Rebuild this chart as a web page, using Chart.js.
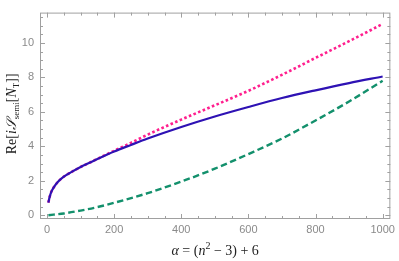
<!DOCTYPE html>
<html><head><meta charset="utf-8">
<script src="https://cdn.jsdelivr.net/npm/chart.js@4"></script>
<style>html,body{margin:0;padding:0;background:#fff}#wrap{width:399px;height:261px}</style>
</head><body><div id="wrap"><canvas id="c"></canvas></div>
<script>
const alphaBlue = [4, 8, 13, 20, 32, 50, 72, 100, 125, 150, 200, 250, 300, 400, 500, 600, 700, 800, 900, 1000];
const blueVals  = [0.73, 1.08, 1.37, 1.62, 1.93, 2.24, 2.5, 2.8, 3.03, 3.26, 3.7, 4.08, 4.45, 5.12, 5.73, 6.28, 6.8, 7.25, 7.67, 8.05];
const alphaPink = [4, 8, 13, 20, 32, 50, 72, 100, 125, 150, 200, 250, 300, 400, 500, 600, 700, 800, 900, 1000];
const pinkVals  = [0.73, 1.08, 1.37, 1.62, 1.93, 2.24, 2.5, 2.8, 3.03, 3.27, 3.74, 4.2, 4.68, 5.55, 6.38, 7.22, 8.15, 9.13, 10.1, 11.1];
const alphaGreen = [4, 50, 100, 150, 200, 300, 400, 500, 600, 700, 800, 900, 1000];
const greenVals  = [0, 0.1, 0.27, 0.47, 0.72, 1.28, 1.95, 2.7, 3.55, 4.45, 5.5, 6.6, 7.8];
const xTicks = [0, 200, 400, 600, 800, 1000];
const yTicks = [0, 2, 4, 6, 8, 10];

const pts = (xs, ys) => xs.map((x, i) => ({x, y: ys[i]}));
const GRAY = '#8a8a8a';

const framePlugin = {
  id: 'frame',
  afterDraw(chart) {
    const ctx = chart.ctx, a = chart.chartArea;
    const xs = chart.scales.x, ys = chart.scales.y;
    ctx.save();
    ctx.strokeStyle = '#a0a0a0';
    ctx.lineWidth = 1;
    ctx.strokeRect(a.left + 0.5, a.top + 0.5, a.right - a.left - 1, a.bottom - a.top - 1);
    ctx.beginPath();
    for (let v = 0; v <= 1000; v += 50) {
      const px = Math.round(xs.getPixelForValue(v)) + 0.5;
      const L = (v % 200 === 0) ? 5 : 3;
      ctx.moveTo(px, a.bottom); ctx.lineTo(px, a.bottom - L);
      ctx.moveTo(px, a.top); ctx.lineTo(px, a.top + L);
    }
    for (let v = 0; v <= 11.5; v += 0.5) {
      const py = Math.round(ys.getPixelForValue(v)) + 0.5;
      const L = (Math.abs(v % 2) < 1e-9) ? 5 : 3;
      ctx.moveTo(a.left, py); ctx.lineTo(a.left + L, py);
      ctx.moveTo(a.right, py); ctx.lineTo(a.right - L, py);
    }
    ctx.stroke();

    ctx.fillStyle = '#222';
    ctx.textBaseline = 'alphabetic';
    const xParts = [
      ['italic 14px "Liberation Serif"', 'α', 0],
      ['14px "Liberation Serif"', ' = (', 0],
      ['italic 14px "Liberation Serif"', 'n', 0],
      ['10px "Liberation Serif"', '2', -6],
      ['14px "Liberation Serif"', ' − 3) + 6', 0]
    ];
    drawParts(ctx, xParts, (a.left + a.right) / 2, 255);

    ctx.translate(16, (a.top + a.bottom) / 2 - 2);
    ctx.rotate(-Math.PI / 2);
    const yParts = [
      ['14px "Liberation Serif"', 'Re[', 0],
      ['italic 14px "Liberation Serif"', 'i', 0],
      ['italic 14px "Liberation Serif"', '𝒮', 0],
      ['9px "Liberation Serif"', 'semi', 3],
      ['14px "Liberation Serif"', '[', 0],
      ['italic 14px "Liberation Serif"', 'N', 0],
      ['9px "Liberation Serif"', 'T', 3],
      ['14px "Liberation Serif"', ']]', 0]
    ];
    drawParts(ctx, yParts, 0, 0);
    ctx.restore();
  }
};
function drawParts(ctx, parts, cx, by) {
  let w = 0;
  parts.forEach(p => { ctx.font = p[0]; w += ctx.measureText(p[1]).width; });
  let x = cx - w / 2;
  ctx.textAlign = 'left';
  parts.forEach(p => { ctx.font = p[0]; ctx.fillText(p[1], x, by + p[2]); x += ctx.measureText(p[1]).width; });
}

new Chart(document.getElementById('c'), {
  type: 'line',
  data: {
    datasets: [
      { label: 'blue', data: pts(alphaBlue, blueVals), borderColor: '#2e12b4', borderWidth: 2.2,
        pointRadius: 0, cubicInterpolationMode: 'monotone', fill: false },
      { label: 'pink', data: pts(alphaPink, pinkVals), borderColor: '#ff1f8e', borderWidth: 2.6,
        borderDash: [2.6, 2.4], borderCapStyle: 'butt', pointRadius: 0, cubicInterpolationMode: 'monotone', fill: false },
      { label: 'green', data: pts(alphaGreen, greenVals), borderColor: '#13906c', borderWidth: 2.4,
        borderDash: [6.5, 3.5], borderCapStyle: 'butt', pointRadius: 0, cubicInterpolationMode: 'monotone', fill: false }
    ]
  },
  options: {
    responsive: true, maintainAspectRatio: false, animation: false,
    layout: { padding: { top: 1, right: 6, left: 0, bottom: 0 } },
    plugins: { legend: { display: false }, tooltip: { enabled: false } },
    scales: {
      x: {
        type: 'linear', min: -21, max: 1023,
        afterFit: s => { s.height = 42; },
        afterBuildTicks: s => { s.ticks = xTicks.map(v => ({value: v})); },
        grid: { display: false, drawTicks: false },
        border: { display: false },
        ticks: { color: GRAY, font: { family: 'Liberation Sans', size: 11 }, padding: 4, maxRotation: 0,
                 callback: v => String(v) }
      },
      y: {
        type: 'linear', min: -0.22, max: 11.76,
        afterFit: s => { s.width = 40; },
        afterBuildTicks: s => { s.ticks = yTicks.map(v => ({value: v})); },
        grid: { display: false, drawTicks: false },
        border: { display: false },
        ticks: { color: GRAY, font: { family: 'Liberation Sans', size: 11 }, padding: 6,
                 callback: v => String(v) }
      }
    }
  },
  plugins: [framePlugin]
});
</script></body></html>
